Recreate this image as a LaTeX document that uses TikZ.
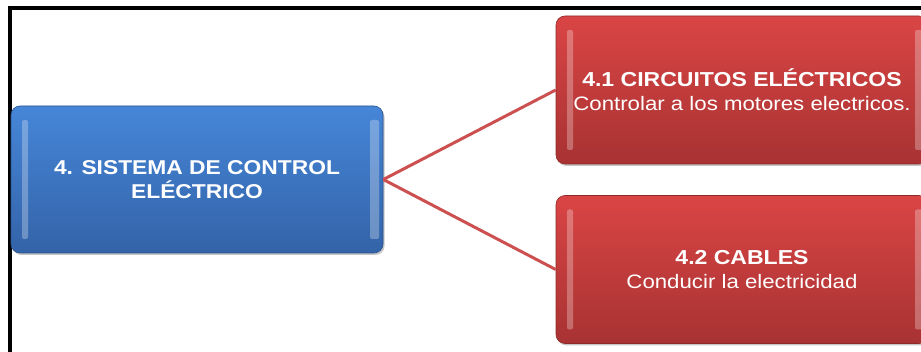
\documentclass[tikz,border=0pt]{standalone}
\usepackage{fontspec}
\setmainfont{Liberation Sans}
\newfontfamily\widefont[FakeStretch=1.14]{Liberation Sans}
\usetikzlibrary{shadows}
\definecolor{bluetop}{HTML}{4686D8}
\definecolor{bluebot}{HTML}{3363A8}
\definecolor{redtop}{HTML}{DA4545}
\definecolor{redbot}{HTML}{A83232}
\definecolor{linkred}{HTML}{CC5050}
\newcommand{\headline}[1]{{\bfseries\fontsize{20.2}{24}\selectfont #1}}
\begin{document}
\begin{tikzpicture}[x=1pt,y=-1pt,
  gloss/.style={path picture={
    \fill[white,opacity=0.28,rounded corners=2pt] ([xshift=11pt,yshift=-14pt]path picture bounding box.north west) rectangle ([xshift=17pt,yshift=14pt]path picture bounding box.south west);
    \fill[white,opacity=0.28,rounded corners=2pt] ([xshift=-13pt,yshift=-14pt]path picture bounding box.north east) rectangle ([xshift=-4pt,yshift=14pt]path picture bounding box.south east);
  }},
  box/.style={rounded corners=9pt, minimum width=372pt, inner sep=0pt, text=white, align=center,
    drop shadow={shadow xshift=1.5pt, shadow yshift=-2pt, opacity=0.45, fill=gray}, gloss},
  bluebox/.style={box, top color=bluetop, bottom color=bluebot, draw=bluebot!85!black, line width=0.6pt, minimum height=147pt,
    font=\widefont\bfseries\fontsize{20}{23.5}\selectfont},
  redbox/.style={box, top color=redtop, bottom color=redbot, draw=redbot!85!black, line width=0.6pt, minimum height=148pt,
    font=\widefont\fontsize{19.5}{24}\selectfont},
  link/.style={linkred, line width=3pt},
  frame/.style={black, line width=4pt}
]
\useasboundingbox (0,0) rectangle (921,352);
\draw[frame] (10,354) -- (10,8) -- (923,8);
\node[bluebox] (main) at (197,179.5) {4. SISTEMA DE CONTROL\\ ELÉCTRICO};
\node[redbox] (c1) at (742,90) {\headline{4.1 CIRCUITOS ELÉCTRICOS}\\ Controlar a los motores electricos.};
\node[redbox] (c2) at (742,269.5) {\headline{4.2 CABLES}\\ Conducir la electricidad};
\draw[link] (main.east) -- (c1.west);
\draw[link] (main.east) -- (c2.west);
\end{tikzpicture}
\end{document}
